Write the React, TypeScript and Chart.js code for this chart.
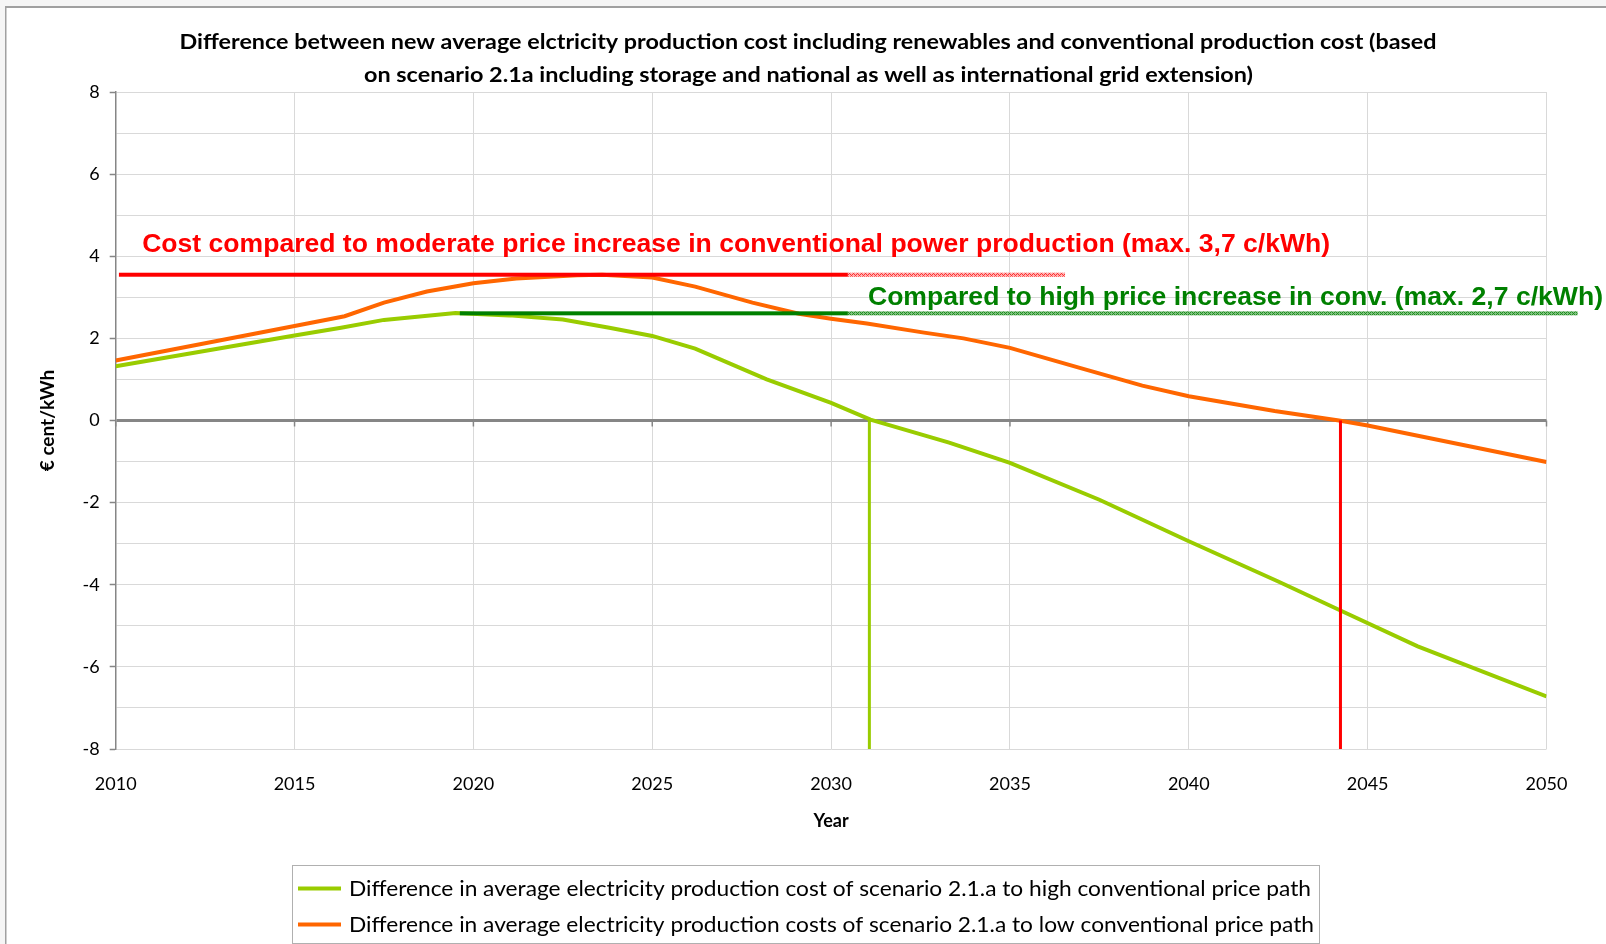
import React, { useEffect, useRef } from 'react';
import { Chart, registerables } from 'chart.js';

Chart.register(...registerables);

// ---------- data ----------
const titleLines = [
  'Difference between new average elctricity production cost including renewables and conventional production cost (based',
  'on scenario 2.1a including storage and national as well as international grid extension)',
];
const yAxisTitle = '€ cent/kWh';
const xAxisTitle = 'Year';

const highPathLabel =
  'Difference in average electricity production cost of scenario 2.1.a to high conventional price path';
const lowPathLabel =
  'Difference in average electricity production costs of scenario 2.1.a to low conventional price path';

const highPathYears = [2010, 2015, 2016.3, 2017.5, 2019.5, 2021, 2022.5, 2023.8, 2025, 2026.2, 2028.2, 2030, 2031.1, 2033.3, 2035, 2037.5, 2040, 2042.5, 2044.3, 2046.4, 2050];
const highPathValues = [1.32, 2.07, 2.26, 2.45, 2.62, 2.56, 2.46, 2.26, 2.06, 1.75, 1.0, 0.43, 0.02, -0.54, -1.03, -1.93, -2.94, -3.92, -4.65, -5.5, -6.72];

const lowPathYears = [2010, 2015, 2016.4, 2017.5, 2018.7, 2020, 2021.2, 2022.9, 2023.6, 2025, 2026.2, 2027.8, 2029.1, 2030, 2031, 2032.6, 2033.7, 2035, 2037, 2038.7, 2040, 2042.4, 2044.2, 2045, 2050];
const lowPathValues = [1.46, 2.3, 2.54, 2.87, 3.14, 3.34, 3.46, 3.54, 3.55, 3.48, 3.26, 2.87, 2.6, 2.48, 2.36, 2.14, 2.0, 1.77, 1.27, 0.85, 0.59, 0.23, 0.0, -0.12, -1.01];

const xTickYears = [2010, 2015, 2020, 2025, 2030, 2035, 2040, 2045, 2050];

const lowMaxLabel = 'Cost compared to moderate price increase in conventional power production (max. 3,7 c/kWh)';
const highMaxLabel = 'Compared to high price increase in conv. (max. 2,7 c/kWh)';
const lowMaxLevel = 3.55;
const lowMaxSpan = [2010.09, 2030.47, 2036.54]; // solid start, solid end, hatched end
const highMaxLevel = 2.61;
const highMaxSpan = [2019.62, 2030.47, 2050.87];
const lowLabelAnchor = [2010.74, 4.27, 2043.95]; // start year, value, end year
const highLabelAnchor = [2031.03, 2.98, 2051.58];
const highBreakEvenYear = 2031.07;
const lowBreakEvenYear = 2044.24;

// ---------- styles ----------
const GREEN = '#99CC00';
const ORANGE = '#FF6600';
const RED = '#FF0000';
const DKGREEN = '#008000';
const AXIS = '#868686';
const GRID = '#d9d9d9';

function makeHatch(ctx: CanvasRenderingContext2D, base: string, dark: string) {
  const c = document.createElement('canvas');
  c.width = 4;
  c.height = 4;
  const g = c.getContext('2d')!;
  g.fillStyle = base;
  g.fillRect(0, 0, 4, 4);
  g.fillStyle = dark;
  g.fillRect(0, 0, 1, 1);
  g.fillRect(2, 0, 1, 1);
  g.fillRect(1, 1, 1, 1);
  g.fillRect(0, 2, 1, 1);
  g.fillRect(2, 2, 1, 1);
  g.fillRect(3, 3, 1, 1);
  return ctx.createPattern(c, 'repeat')!;
}

// draws text stretched/compressed horizontally to a target width
function fitText(ctx: CanvasRenderingContext2D, text: string, x: number, y: number, w: number, align: CanvasTextAlign) {
  const m = ctx.measureText(text).width || 1;
  const sx = w / m;
  ctx.save();
  ctx.translate(x, y);
  ctx.scale(sx, 1);
  ctx.textAlign = align;
  ctx.fillText(text, 0, 0);
  ctx.restore();
}

const decorPlugin = {
  id: 'decor',
  beforeDraw(chart: any) {
    const { ctx, width, height } = chart;
    ctx.save();
    ctx.fillStyle = '#ffffff';
    ctx.fillRect(0, 0, width, height);
    ctx.fillStyle = '#f5f5f5';
    ctx.fillRect(0, 0, width, 6);
    ctx.fillRect(0, 0, 5, height);
    ctx.fillStyle = '#a0a0a0';
    ctx.fillRect(5, 6, width - 5, 2);
    ctx.fillRect(5, 6, 1.5, height - 6);
    ctx.fillStyle = '#000';
    ctx.font = 'bold 21px Lato';
    ctx.textBaseline = 'middle';
    fitText(ctx, titleLines[0], 808, 42.5, 1257, 'center');
    fitText(ctx, titleLines[1], 808.5, 75.5, 889, 'center');
    ctx.restore();
  },
  beforeDatasetsDraw(chart: any) {
    const { ctx } = chart;
    const xs = chart.scales.x;
    const ys = chart.scales.y;
    const y0 = ys.getPixelForValue(0);
    ctx.save();
    ctx.strokeStyle = AXIS;
    ctx.lineWidth = 1.5;
    for (const yr of xTickYears) {
      const x = xs.getPixelForValue(yr);
      ctx.beginPath();
      ctx.moveTo(x, y0);
      ctx.lineTo(x, y0 + 6);
      ctx.stroke();
    }
    ctx.restore();
  },
  afterDatasetsDraw(chart: any) {
    const { ctx } = chart;
    const xs = chart.scales.x;
    const ys = chart.scales.y;
    ctx.save();
    const lw = 4;
    // red reference
    const ry = ys.getPixelForValue(lowMaxLevel);
    const r0 = xs.getPixelForValue(lowMaxSpan[0]);
    const r1 = xs.getPixelForValue(lowMaxSpan[1]);
    const r2 = xs.getPixelForValue(lowMaxSpan[2]);
    ctx.fillStyle = RED;
    ctx.fillRect(r0, ry - lw / 2, r1 - r0, lw);
    ctx.fillStyle = makeHatch(ctx, '#ffb0b0', '#ff3030');
    ctx.fillRect(r1, ry - lw / 2, r2 - r1, lw);
    // green reference
    const gy = ys.getPixelForValue(highMaxLevel);
    const g0 = xs.getPixelForValue(highMaxSpan[0]);
    const g1 = xs.getPixelForValue(highMaxSpan[1]);
    const g2 = xs.getPixelForValue(highMaxSpan[2]);
    ctx.fillStyle = DKGREEN;
    ctx.fillRect(g0, gy - lw / 2, g1 - g0, lw);
    ctx.fillStyle = makeHatch(ctx, '#80c080', '#1f8f1f');
    ctx.fillRect(g1, gy - lw / 2, g2 - g1, lw);
    // break-even verticals
    const yz = ys.getPixelForValue(0);
    const yb = ys.getPixelForValue(-8);
    ctx.lineWidth = 3;
    ctx.strokeStyle = GREEN;
    let vx = xs.getPixelForValue(highBreakEvenYear);
    ctx.beginPath();
    ctx.moveTo(vx, yz);
    ctx.lineTo(vx, yb);
    ctx.stroke();
    ctx.strokeStyle = RED;
    vx = xs.getPixelForValue(lowBreakEvenYear);
    ctx.beginPath();
    ctx.moveTo(vx, yz);
    ctx.lineTo(vx, yb);
    ctx.stroke();
    // labels
    ctx.font = 'bold 26px "Liberation Sans", Arial, sans-serif';
    ctx.textBaseline = 'middle';
    ctx.fillStyle = RED;
    let lx = xs.getPixelForValue(lowLabelAnchor[0]);
    let lx2 = xs.getPixelForValue(lowLabelAnchor[2]);
    fitText(ctx, lowMaxLabel, lx, ys.getPixelForValue(lowLabelAnchor[1]), lx2 - lx, 'left');
    ctx.fillStyle = DKGREEN;
    lx = xs.getPixelForValue(highLabelAnchor[0]);
    lx2 = xs.getPixelForValue(highLabelAnchor[2]);
    fitText(ctx, highMaxLabel, lx, ys.getPixelForValue(highLabelAnchor[1]), lx2 - lx, 'left');
    ctx.restore();
  },
  afterDraw(chart: any) {
    const { ctx } = chart;
    ctx.save();
    // legend box
    ctx.fillStyle = '#ffffff';
    ctx.fillRect(292, 865, 1027, 78);
    ctx.strokeStyle = '#b0b0b0';
    ctx.lineWidth = 1;
    ctx.strokeRect(292.5, 865.5, 1027, 78);
    ctx.font = '21px Lato';
    ctx.textBaseline = 'middle';
    const rows = [888.5, 924.5];
    const widths = [962, 965];
    chart.data.datasets.forEach((ds: any, i: number) => {
      const y = rows[i];
      ctx.strokeStyle = ds.borderColor;
      ctx.lineWidth = 4;
      ctx.beginPath();
      ctx.moveTo(298, y);
      ctx.lineTo(341, y);
      ctx.stroke();
      ctx.fillStyle = '#000';
      fitText(ctx, ds.label, 349, y + 1, widths[i], 'left');
    });
    ctx.restore();
  },
};

export default function App() {
  const ref = useRef<HTMLCanvasElement | null>(null);
  useEffect(() => {
    if (!ref.current) return;
    const chart = new Chart(ref.current, {
      type: 'line',
      data: {
        datasets: [
          {
            label: highPathLabel,
            data: highPathYears.map((x, i) => ({ x, y: highPathValues[i] })),
            borderColor: GREEN,
            backgroundColor: GREEN,
            borderWidth: 4,
            pointRadius: 0,
            tension: 0,
          },
          {
            label: lowPathLabel,
            data: lowPathYears.map((x, i) => ({ x, y: lowPathValues[i] })),
            borderColor: ORANGE,
            backgroundColor: ORANGE,
            borderWidth: 4,
            pointRadius: 0,
            tension: 0,
          },
        ],
      },
      options: {
        animation: false,
        responsive: true,
        maintainAspectRatio: false,
        layout: { padding: { top: 92, right: 1606 - 1546.5, bottom: 0, left: 0 } },
        plugins: {
          legend: { display: false },
          title: { display: false },
          tooltip: { enabled: false },
        },
        scales: {
          x: {
            type: 'linear',
            min: 2010,
            max: 2050,
            afterFit(s: any) {
              s.height = 195;
            },
            afterBuildTicks(s: any) {
              s.ticks = xTickYears.map((v) => ({ value: v }));
            },
            ticks: {
              padding: 24,
              color: '#000',
              font: { family: 'Lato', size: 18 },
              callback: (v: any) => String(v),
            },
            grid: { color: GRID, lineWidth: 1, drawTicks: false },
            border: { display: false },
            title: {
              display: true,
              text: xAxisTitle,
              color: '#000',
              font: { family: 'Lato', size: 18, weight: 'bold' },
              padding: { top: 0, bottom: 112 },
            },
          },
          y: {
            min: -8,
            max: 8,
            afterFit(s: any) {
              s.width = 115.7;
            },
            ticks: {
              stepSize: 1,
              padding: 10,
              color: '#000',
              font: { family: 'Lato', size: 18 },
              callback: (v: any) => (Number(v) % 2 === 0 ? String(v) : ''),
            },
            grid: {
              color: (c: any) => (c.tick && c.tick.value === 0 ? AXIS : GRID),
              lineWidth: (c: any) => (c.tick && c.tick.value === 0 ? 3 : 1),
              drawTicks: true,
              tickLength: 6,
              tickColor: (c: any) => (c.tick && c.tick.value % 2 === 0 ? AXIS : 'rgba(0,0,0,0)'),
              tickWidth: 1.5,
            },
            border: { display: true, color: AXIS, width: 1.5 },
            title: {
              display: true,
              text: yAxisTitle,
              color: '#000',
              font: { family: 'Lato', size: 19, weight: 'bold' },
              padding: { top: 36, bottom: 0 },
            },
          },
        },
      },
      plugins: [decorPlugin],
    } as any);
    return () => chart.destroy();
  }, []);
  return (
    <div style={{ position: 'absolute', left: 0, top: 0, width: 1606, height: 944 }}>
      <canvas ref={ref} />
    </div>
  );
}
